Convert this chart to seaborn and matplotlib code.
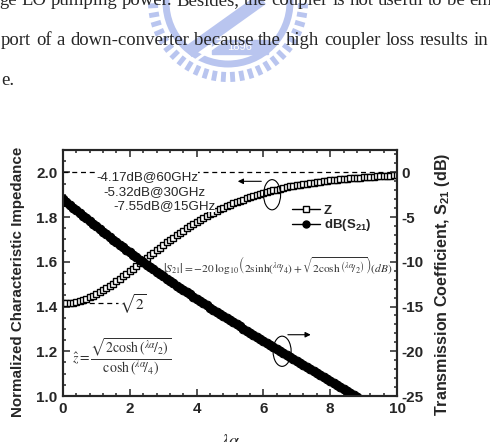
import matplotlib
matplotlib.use('Agg')
import matplotlib.pyplot as plt
import seaborn as sns
import numpy as np
from matplotlib.patches import Ellipse, Rectangle, Circle
from matplotlib.lines import Line2D
from matplotlib.ticker import MultipleLocator

# Data
lam_alpha = [0.0, 0.1, 0.2, 0.3, 0.4, 0.5, 0.6, 0.7, 0.8, 0.9,
             1.0, 1.1, 1.2, 1.3, 1.4, 1.5, 1.6, 1.7, 1.8, 1.9,
             2.0, 2.1, 2.2, 2.3, 2.4, 2.5, 2.6, 2.7, 2.8, 2.9,
             3.0, 3.1, 3.2, 3.3, 3.4, 3.5, 3.6, 3.7, 3.8, 3.9,
             4.0, 4.1, 4.2, 4.3, 4.4, 4.5, 4.6, 4.7, 4.8, 4.9,
             5.0, 5.1, 5.2, 5.3, 5.4, 5.5, 5.6, 5.7, 5.8, 5.9,
             6.0, 6.1, 6.2, 6.3, 6.4, 6.5, 6.6, 6.7, 6.8, 6.9,
             7.0, 7.1, 7.2, 7.3, 7.4, 7.5, 7.6, 7.7, 7.8, 7.9,
             8.0, 8.1, 8.2, 8.3, 8.4, 8.5, 8.6, 8.7, 8.8, 8.9,
             9.0, 9.1, 9.2, 9.3, 9.4, 9.5, 9.6, 9.7, 9.8, 9.9, 10.0]

z_norm = [1.414, 1.415, 1.416, 1.418, 1.421, 1.425, 1.430, 1.435, 1.442, 1.448,
          1.456, 1.464, 1.473, 1.482, 1.492, 1.502, 1.513, 1.524, 1.535, 1.546,
          1.558, 1.570, 1.582, 1.593, 1.605, 1.617, 1.629, 1.641, 1.652, 1.664,
          1.675, 1.687, 1.698, 1.708, 1.719, 1.729, 1.740, 1.750, 1.759, 1.769,
          1.778, 1.787, 1.795, 1.803, 1.812, 1.819, 1.827, 1.834, 1.841, 1.848,
          1.855, 1.861, 1.867, 1.873, 1.878, 1.884, 1.889, 1.894, 1.899, 1.903,
          1.908, 1.912, 1.916, 1.920, 1.923, 1.927, 1.930, 1.933, 1.937, 1.939,
          1.942, 1.945, 1.948, 1.950, 1.952, 1.954, 1.957, 1.959, 1.961, 1.962,
          1.964, 1.966, 1.968, 1.969, 1.971, 1.972, 1.973, 1.975, 1.976, 1.977,
          1.978, 1.979, 1.980, 1.981, 1.982, 1.983, 1.984, 1.984, 1.985, 1.986, 1.987]

s21_db = [-3.01, -3.32, -3.62, -3.93, -4.24, -4.54, -4.85, -5.15, -5.45, -5.75,
          -6.05, -6.35, -6.64, -6.94, -7.23, -7.52, -7.81, -8.09, -8.38, -8.66,
          -8.94, -9.22, -9.49, -9.77, -10.04, -10.31, -10.58, -10.84, -11.11, -11.37,
          -11.63, -11.89, -12.14, -12.40, -12.65, -12.90, -13.15, -13.40, -13.65, -13.90,
          -14.14, -14.38, -14.63, -14.87, -15.11, -15.35, -15.59, -15.82, -16.06, -16.29,
          -16.53, -16.76, -17.00, -17.23, -17.46, -17.69, -17.92, -18.15, -18.38, -18.61,
          -18.84, -19.06, -19.29, -19.52, -19.74, -19.97, -20.19, -20.42, -20.64, -20.87,
          -21.09, -21.31, -21.54, -21.76, -21.98, -22.21, -22.43, -22.65, -22.87, -23.09,
          -23.31, -23.53, -23.76, -23.98, -24.20, -24.42, -24.64, -24.86, -25.08]

x_ticks = [0, 2, 4, 6, 8, 10]
z_ticks = [1.0, 1.2, 1.4, 1.6, 1.8, 2.0]
s21_ticks = [-25, -20, -15, -10, -5, 0]

page_lines = ['ge LO pumping power. Besides, the coupler is not useful to be em',
              'port of a down-converter because the high coupler loss results in',
              'e.']

sns.set_style('ticks')
plt.rcParams['font.family'] = ['Liberation Sans', 'DejaVu Sans']
plt.rcParams['axes.unicode_minus'] = False
plt.rcParams['mathtext.fontset'] = 'custom'
plt.rcParams['mathtext.rm'] = 'Liberation Sans'
plt.rcParams['mathtext.bf'] = 'Liberation Sans:bold'

fig = plt.figure(figsize=(4.9, 4.42), dpi=100)

# page background: scanned text and watermark, in pixel coordinates
bg = fig.add_axes([0, 0, 1, 1], zorder=0)
bg.set_xlim(0, 490)
bg.set_ylim(442, 0)
bg.axis('off')

wm = '#b9c5ef'
for ang in np.linspace(0.05, np.pi - 0.05, 26):
    bg.plot([228 + 70 * np.cos(ang), 228 + 80 * np.cos(ang)],
            [2 + 70 * np.sin(ang), 2 + 80 * np.sin(ang)], color=wm, lw=3.5, solid_capstyle='butt')
bg.add_patch(Circle((228, 2), 62, fill=False, ec=wm, lw=5))
bg.plot([188, 272], [52, -8], color=wm, lw=9, solid_capstyle='butt')
bg.plot([196, 280], [60, 0], color='white', lw=2)
bg.add_patch(Rectangle((212, 40), 56, 14, color=wm))
bg.text(240, 47.5, '1896', color='white', fontsize=8, ha='center', va='center')


def justified(line, y, x0, x1, size):
    words = line.split()
    texts = [bg.text(0, y, w, fontsize=size, family='Liberation Serif', va='baseline') for w in words]
    fig.canvas.draw()
    r = fig.canvas.get_renderer()
    widths = [t.get_window_extent(r).width for t in texts]
    gap = (x1 - x0 - sum(widths)) / max(len(words) - 1, 1)
    x = x0
    for t, w in zip(texts, widths):
        t.set_x(x)
        x += w + gap


justified(page_lines[0], 5, -1, 492, 13.5)
justified(page_lines[1], 45, 1, 488, 13.5)
bg.text(1, 85, page_lines[2], fontsize=13.5, family='Liberation Serif', va='baseline')
bg.text(230, 446, r'$\lambda\alpha$', fontsize=13, math_fontfamily='stix', ha='center', va='baseline')

# main chart
ax = fig.add_axes([63 / 490, 46 / 442, 334 / 490, 246 / 442], zorder=2)
ax2 = ax.twinx()

sns.lineplot(x=lam_alpha, y=z_norm, ax=ax, color='black', lw=1, marker='s', markersize=4.4,
             markerfacecolor='white', markeredgecolor='black', markeredgewidth=1.0)
sns.lineplot(x=lam_alpha[:len(s21_db)], y=s21_db, ax=ax2, color='black', lw=1, marker='o',
             markersize=6.3, markerfacecolor='black', markeredgecolor='black')

ax.set_xlim(0, 10)
ax.set_ylim(1.0, 2.1)
ax2.set_ylim(-25, 2.5)

ax.set_xticks(x_ticks)
ax.set_yticks(z_ticks)
ax2.set_yticks(s21_ticks)
ax.set_xticklabels([str(v) for v in x_ticks])
ax.set_yticklabels([f'{v:.1f}' for v in z_ticks])
ax2.set_yticklabels([str(v) for v in s21_ticks])
ax.xaxis.set_minor_locator(MultipleLocator(0.4))
ax.yaxis.set_minor_locator(MultipleLocator(0.05))
ax2.yaxis.set_minor_locator(MultipleLocator(1))

ax.tick_params(which='both', direction='in', top=True, right=False, width=1.1)
ax.tick_params(which='major', length=5, labelsize=11, pad=4)
ax.tick_params(which='minor', length=2.5)
ax2.tick_params(which='both', direction='in', width=1.1)
ax2.tick_params(which='major', length=5, labelsize=11, pad=3)
ax2.tick_params(which='minor', length=2.5)
for lab in ax.get_xticklabels() + ax.get_yticklabels() + ax2.get_yticklabels():
    lab.set_fontweight('bold')
for a in (ax, ax2):
    for sp in a.spines.values():
        sp.set_linewidth(1.5)

ax.set_xlabel('')
ax.set_ylabel('Normalized Characteristic Impedance', fontsize=10.9, fontweight='bold')
ax.yaxis.set_label_coords(-0.114, 0.463)
ax2.set_ylabel(r'Transmission Coefficient, S$_{\mathbf{21}}$ (dB)', fontsize=11.6, fontweight='bold')
ax2.yaxis.set_label_coords(1.108, 0.453)

# reference lines
ax.axhline(2.0, color='black', lw=0.9, ls=(0, (4, 3)), zorder=1)
ax.plot([0, 1.65], [1.414, 1.414], color='black', lw=0.9, ls=(0, (4, 3)), zorder=1)
ax.text(1.68, 1.41, r'$\sqrt{2}$', fontsize=11, math_fontfamily='stix', va='center')

# loss callouts
callouts = [('-4.17dB@60GHz', 0.99, 1.978, (1.02, 1.962), (0.42, 1.858)),
            ('-5.32dB@30GHz', 1.20, 1.910, (1.14, 1.900), (0.78, 1.792)),
            ('-7.55dB@15GHz', 1.50, 1.848, (2.02, 1.806), (1.62, 1.700))]
for label, tx, ty, start, end in callouts:
    ax.text(tx, ty, label, fontsize=9.6, va='center', ha='left', zorder=5,
            bbox=dict(facecolor='white', edgecolor='none', pad=0))
    ax.annotate('', xy=end, xytext=start,
                arrowprops=dict(arrowstyle='-', lw=0.8, connectionstyle='arc3,rad=0.35'))

# axis-pointer ellipses
ax.add_patch(Ellipse((6.26, 1.90), 0.51, 0.135, fill=False, ec='black', lw=0.8, zorder=6))
ax.annotate('', xy=(5.15, 1.96), xytext=(6.02, 1.96),
            arrowprops=dict(arrowstyle='-|>', lw=0.8, color='black', mutation_scale=8))
ax.add_patch(Ellipse((6.56, 1.20), 0.54, 0.135, fill=False, ec='black', lw=0.8, zorder=6))
ax.annotate('', xy=(7.5, 1.274), xytext=(6.65, 1.274),
            arrowprops=dict(arrowstyle='-|>', lw=0.8, color='black', mutation_scale=8))

# formulas
ax.text(2.99, 1.587,
        r'$\left|S_{21}\right|=-20\,\log_{10}\left(2\sinh(^{\lambda\alpha}\!/_{4})+'
        r'\sqrt{2\cosh\left(^{\lambda\alpha}\!/_{2}\right)}\right)(dB)$',
        fontsize=8.2, math_fontfamily='stix', va='center', color='#333333')
ax.text(0.27, 1.175,
        r'$\hat{z}=\dfrac{\sqrt{2\cosh\left(^{\lambda\alpha}\!/_{2}\right)}}{\cosh\left(^{\lambda\alpha}\!/_{4}\right)}$',
        fontsize=10, math_fontfamily='stix', va='center', color='#333333')

# legend
handles = [Line2D([], [], color='black', lw=1, marker='s', markersize=4, markerfacecolor='white'),
           Line2D([], [], color='black', lw=1, marker='o', markersize=5)]
ax.legend(handles, ['Z', r'dB(S$_{\mathbf{21}}$)'], loc='upper left', bbox_to_anchor=(0.67, 0.80),
          frameon=False, handlelength=2.1, handletextpad=0.3, labelspacing=0.05,
          prop={'weight': 'bold', 'size': 9.5}, borderaxespad=0)

fig.savefig('out.png', dpi=100)
